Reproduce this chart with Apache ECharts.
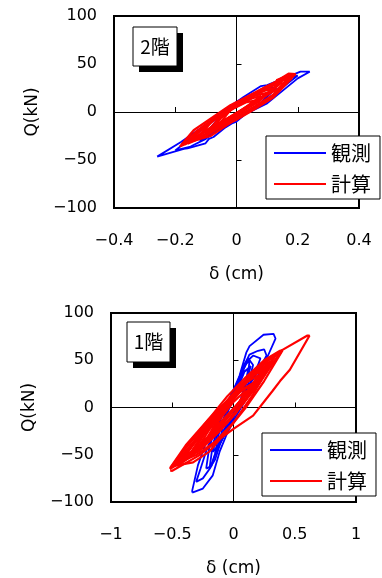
<!DOCTYPE html>
<html>
<head>
<meta charset="utf-8">
<script src="https://cdn.jsdelivr.net/npm/echarts@6/dist/echarts.min.js"></script>
<style>
  html, body { margin: 0; padding: 0; background: #fff; }
  #chart { width: 382px; height: 578px; }
</style>
</head>
<body>
<div id="chart"></div>
<script>
// hysteresis loops, [delta (cm), Q (kN)]
const floor2Observed = [
  [[-0.259, -46.5], [-0.172, -38.5], [-0.16, -38], [-0.101, -32.6], [-0.09, -28], [-0.075, -26], [-0.04, -17], [-0.015, -12], [0, -10], [0.03, -2], [0.1, 9], [0.15, 22], [0.2, 35], [0.239, 42], [0.209, 42], [0.1, 28], [0.08, 27], [0.023, 15.6], [-0.03, 4], [-0.1, -13], [-0.18, -31], [-0.259, -46.5]],
  [[-0.2, -40], [-0.15, -36], [-0.1, -28], [-0.03, -12], [0.05, 2], [0.12, 18], [0.18, 33], [0.2, 38], [0.16, 35], [0.1, 27], [0.03, 14], [-0.05, -2], [-0.12, -20], [-0.2, -40]],
  [[-0.12, -30], [-0.05, -16], [0.02, -4], [0.08, 10], [0.13, 25], [0.1, 26], [0.04, 16], [-0.04, 1], [-0.12, -30]]
];
const floor2Computed = [
  [[-0.185, -36], [-0.15, -31], [-0.085, -25], [0, -7], [0.05, 2], [0.1, 12], [0.15, 26], [0.193, 39.6], [0.17, 40], [0.1, 26], [0.05, 18], [0, 9], [-0.085, -10], [-0.13, -20], [-0.17, -31], [-0.185, -36]],
  [[-0.18, -34], [-0.12, -26], [-0.06, -17], [0, -8], [0.06, 3], [0.12, 15], [0.18, 35], [0.16, 36], [0.1, 27], [0.04, 17], [-0.02, 7], [-0.08, -6], [-0.14, -19], [-0.18, -34]],
  [[-0.17, -34], [-0.1, -19], [-0.05, -10], [0.02, 2], [0.08, 14], [0.14, 25], [0.18, 37], [0.14, 31], [0.08, 22], [0.02, 11], [-0.04, 0], [-0.1, -13], [-0.17, -34]],
  [[-0.16, -33], [-0.1, -25], [-0.04, -13], [0, -5], [0.06, 6], [0.12, 18], [0.17, 36], [0.15, 35], [0.1, 24], [0.04, 14], [0, 7], [-0.06, -5], [-0.12, -20], [-0.16, -33]],
  [[-0.15, -30], [-0.09, -18], [-0.03, -7], [0.03, 5], [0.09, 16], [0.15, 31], [0.12, 28], [0.06, 18], [0, 7], [-0.06, -5], [-0.11, -15], [-0.15, -30]],
  [[-0.13, -28], [-0.07, -18], [0, -3], [0.07, 10], [0.14, 30], [0.1, 25], [0.04, 15], [-0.02, 4], [-0.08, -10], [-0.13, -28]],
  [[-0.12, -24], [-0.06, -13], [0, -1], [0.06, 10], [0.12, 25], [0.08, 21], [0.02, 10], [-0.04, -1], [-0.09, -12], [-0.12, -24]],
  [[-0.1, -22], [-0.04, -10], [0.02, 1], [0.1, 20], [0.06, 17], [0, 6], [-0.05, -4], [-0.1, -22]],
  [[-0.08, -18], [-0.03, -7], [0.03, 4], [0.08, 17], [0.05, 14], [-0.01, 4], [-0.05, -6], [-0.08, -18]],
  [[-0.06, -14], [0, -2], [0.06, 12], [0.03, 10], [-0.02, 2], [-0.06, -14]],
  [[0.19, 39], [0.16, 37], [0.13, 33], [0.17, 36], [0.19, 39]]
];
const floor1Observed = [
  [[-0.337, -90], [-0.25, -85.8], [-0.169, -71.8], [-0.114, -47], [-0.06, -29.7], [0.008, -12], [0.104, 9], [0.185, 30], [0.28, 54.5], [0.343, 73], [0.327, 78], [0.245, 77], [0.131, 65], [0.104, 58], [0.049, 33.5], [-0.033, 9], [-0.141, -15.6], [-0.223, -36.6], [-0.29, -61], [-0.337, -88], [-0.337, -90]],
  [[-0.305, -78.7], [-0.25, -75], [-0.19, -64], [-0.14, -45], [-0.08, -24], [0, -6], [0.1, 18], [0.2, 38], [0.27, 55], [0.25, 61.6], [0.2, 60], [0.13, 56], [0.09, 45], [0.03, 25], [-0.05, 4], [-0.14, -20], [-0.22, -45], [-0.27, -65], [-0.305, -78.7]],
  [[-0.223, -64.7], [-0.18, -62], [-0.14, -46], [-0.1, -30], [0, -10], [0.08, 10], [0.15, 30], [0.2, 45], [0.22, 52], [0.16, 55], [0.12, 50], [0.08, 40], [0, 18], [-0.08, -2], [-0.15, -22], [-0.2, -44], [-0.223, -64.7]],
  [[-0.196, -64.7], [-0.15, -55], [-0.1, -35], [-0.03, -18], [0.05, 2], [0.12, 25], [0.16, 45], [0.12, 52], [0.08, 44], [0.02, 22], [-0.05, 5], [-0.12, -18], [-0.17, -40], [-0.196, -64.7]],
  [[-0.169, -47], [-0.12, -40], [-0.06, -24], [0, -10], [0.06, 8], [0.1, 28], [0.12, 40], [0.08, 38], [0.03, 20], [-0.03, 5], [-0.09, -15], [-0.14, -32], [-0.169, -47]],
  [[-0.15, -48], [-0.1, -36], [-0.04, -20], [0.02, -4], [0.08, 14], [0.12, 34], [0.13, 50], [0.1, 46], [0.05, 30], [-0.01, 12], [-0.07, -8], [-0.12, -28], [-0.15, -48]],
  [[-0.12, -40], [-0.06, -26], [0, -10], [0.06, 8], [0.1, 24], [0.14, 44], [0.09, 38], [0.04, 22], [-0.02, 4], [-0.08, -16], [-0.12, -40]]
];
const floor1Computed = [
  [[-0.517, -66.5], [-0.5, -67], [-0.28, -50.7], [-0.1, -32], [0, -22.6], [0.16, -8.6], [0.32, 17.7], [0.38, 28], [0.46, 40], [0.62, 76], [0.6, 76], [0.4, 61], [0.24, 48], [0, 14], [-0.2, -12], [-0.39, -40], [-0.517, -64]],
  [[-0.52, -65], [-0.4, -56], [-0.25, -42], [-0.1, -22], [0.05, 0], [0.2, 24], [0.35, 52], [0.39, 59], [0.3, 53], [0.18, 40], [0.05, 22], [-0.1, 0], [-0.25, -22], [-0.4, -44], [-0.52, -65]],
  [[-0.5, -62], [-0.33, -58], [-0.2, -47], [-0.06, -26], [0.1, 0], [0.25, 28], [0.4, 60.5], [0.38, 60], [0.25, 50], [0.1, 32], [-0.05, 12], [-0.2, -12], [-0.35, -36], [-0.5, -62]],
  [[-0.48, -60], [-0.3, -50], [-0.15, -36], [0, -16], [0.15, 12], [0.28, 40], [0.38, 57], [0.3, 52], [0.15, 36], [0, 15], [-0.15, -8], [-0.3, -32], [-0.48, -60]],
  [[-0.46, -62], [-0.35, -52], [-0.2, -36], [-0.05, -16], [0.1, 8], [0.22, 30], [0.34, 54], [0.26, 48], [0.12, 28], [-0.02, 8], [-0.16, -14], [-0.32, -38], [-0.46, -62]],
  [[-0.45, -58], [-0.3, -44], [-0.15, -28], [0, -8], [0.15, 18], [0.32, 50], [0.2, 42], [0.05, 22], [-0.1, -2], [-0.25, -26], [-0.45, -58]],
  [[-0.42, -56], [-0.28, -46], [-0.12, -26], [0.02, -6], [0.16, 18], [0.3, 48], [0.22, 44], [0.08, 24], [-0.06, 4], [-0.2, -18], [-0.34, -40], [-0.42, -56]],
  [[-0.4, -52], [-0.25, -38], [-0.1, -18], [0.05, 4], [0.2, 30], [0.28, 46], [0.15, 34], [0, 12], [-0.15, -12], [-0.3, -34], [-0.4, -52]],
  [[-0.38, -54], [-0.22, -36], [-0.08, -16], [0.06, 6], [0.18, 26], [0.26, 42], [0.16, 36], [0.02, 14], [-0.12, -8], [-0.26, -30], [-0.38, -54]],
  [[-0.35, -48], [-0.2, -32], [-0.05, -10], [0.1, 14], [0.24, 40], [0.12, 30], [-0.02, 8], [-0.18, -18], [-0.35, -48]],
  [[-0.32, -46], [-0.18, -30], [-0.04, -8], [0.1, 14], [0.2, 34], [0.1, 26], [-0.04, 6], [-0.18, -14], [-0.32, -46]],
  [[-0.28, -40], [-0.12, -20], [0, -2], [0.15, 24], [0.05, 16], [-0.08, -4], [-0.2, -24], [-0.28, -40]],
  [[-0.25, -40], [-0.1, -16], [0.04, 4], [0.16, 26], [0.06, 18], [-0.06, 0], [-0.16, -20], [-0.25, -40]],
  [[-0.2, -30], [-0.08, -12], [0.05, 6], [0.1, 18], [0, 6], [-0.12, -14], [-0.2, -30]]
];

// axis ranges: [min, max, interval]
const floor2XRange = [-0.4, 0.4, 0.2];
const floor1XRange = [-1, 1, 0.5];
const qRange = [-100, 100, 50];

const seriesNames = ['観測', '計算'];
const panelTitles = ['2階', '1階'];

const NUM_FONT = 'DejaVu Sans';
const CJK_FONT = 'Noto Sans CJK JP';
const BLUE = '#0000ff';
const RED = '#ff0000';

const grids = [
  { left: 114, top: 16, width: 245, height: 192 },
  { left: 111, top: 313, width: 245, height: 189 }
];

const minus = (v) => String(v).replace('-', '\u2212');

function labelAxis(gridIndex, range, isX) {
  return {
    type: 'value',
    gridIndex,
    min: range[0],
    max: range[1],
    interval: range[2],
    position: isX ? 'bottom' : 'left',
    axisLine: { show: false, onZero: false },
    axisTick: { show: false },
    splitLine: { show: false },
    axisLabel: {
      color: '#000',
      fontFamily: NUM_FONT,
      fontSize: 16,
      margin: isX ? 25 : 17,
      formatter: minus
    },
    name: isX ? 'δ (cm)' : 'Q(kN)',
    nameLocation: 'middle',
    nameGap: isX ? 58 : 73,
    nameTextStyle: { color: '#000', fontFamily: NUM_FONT, fontSize: 17 }
  };
}

function zeroAxis(gridIndex, range, isX) {
  return {
    type: 'value',
    gridIndex,
    min: range[0],
    max: range[1],
    interval: range[2],
    position: isX ? 'bottom' : 'left',
    axisLine: { show: true, onZero: true, lineStyle: { color: '#000', width: 1 } },
    axisTick: { show: true, inside: true, length: 5, lineStyle: { color: '#000', width: 1 } },
    axisLabel: { show: false },
    splitLine: { show: false }
  };
}

function loopSeries(loops, name, color, axisIndex) {
  return loops.map((pts) => ({
    type: 'line',
    name,
    data: pts,
    xAxisIndex: axisIndex,
    yAxisIndex: axisIndex,
    symbol: 'none',
    silent: true,
    z: color === RED ? 4 : 3,
    lineStyle: { color, width: color === RED ? 2.2 : 1.8 },
    itemStyle: { color }
  }));
}

function legendAt(left, top) {
  return {
    data: seriesNames,
    orient: 'vertical',
    left,
    top,
    padding: [6, 9, 4, 7],
    itemGap: 9,
    itemWidth: 52,
    itemHeight: 14,
    backgroundColor: '#fff',
    borderColor: '#000',
    borderWidth: 1,
    selectedMode: false,
    itemStyle: { opacity: 0 },
    lineStyle: { width: 2 },
    textStyle: { color: '#000', fontFamily: CJK_FONT, fontSize: 20, lineHeight: 22 }
  };
}

function titleBox(x, y, w, h, text) {
  return [
    { type: 'rect', shape: { x: x + 6, y: y + 6, width: w, height: h }, style: { fill: '#000' }, z: 10 },
    { type: 'rect', shape: { x, y, width: w, height: h }, style: { fill: '#fff', stroke: '#000', lineWidth: 1 }, z: 11 },
    {
      type: 'text', x: x + w / 2, y: y + h / 2, z: 12,
      style: { text, fill: '#000', font: '19px "' + CJK_FONT + '"', align: 'center', verticalAlign: 'middle' }
    }
  ];
}

const chart = echarts.init(document.getElementById('chart'));

chart.setOption({
  animation: false,
  backgroundColor: '#fff',
  grid: grids.map((g) => ({ ...g, show: true, borderColor: '#000', borderWidth: 2, backgroundColor: '#fff' })),
  xAxis: [
    labelAxis(0, floor2XRange, true),
    zeroAxis(0, floor2XRange, true),
    labelAxis(1, floor1XRange, true),
    zeroAxis(1, floor1XRange, true)
  ],
  yAxis: [
    labelAxis(0, qRange, false),
    zeroAxis(0, qRange, false),
    labelAxis(1, qRange, false),
    zeroAxis(1, qRange, false)
  ],
  legend: [legendAt(266, 136), legendAt(262, 433)],
  graphic: [
    ...titleBox(133, 27, 44, 39, panelTitles[0]),
    ...titleBox(127, 322, 43, 40, panelTitles[1])
  ],
  series: [
    ...loopSeries(floor2Observed, seriesNames[0], BLUE, 0),
    ...loopSeries(floor2Computed, seriesNames[1], RED, 0),
    ...loopSeries(floor1Observed, seriesNames[0], BLUE, 2),
    ...loopSeries(floor1Computed, seriesNames[1], RED, 2)
  ]
});

window.addEventListener('resize', () => chart.resize());
</script>
</body>
</html>
